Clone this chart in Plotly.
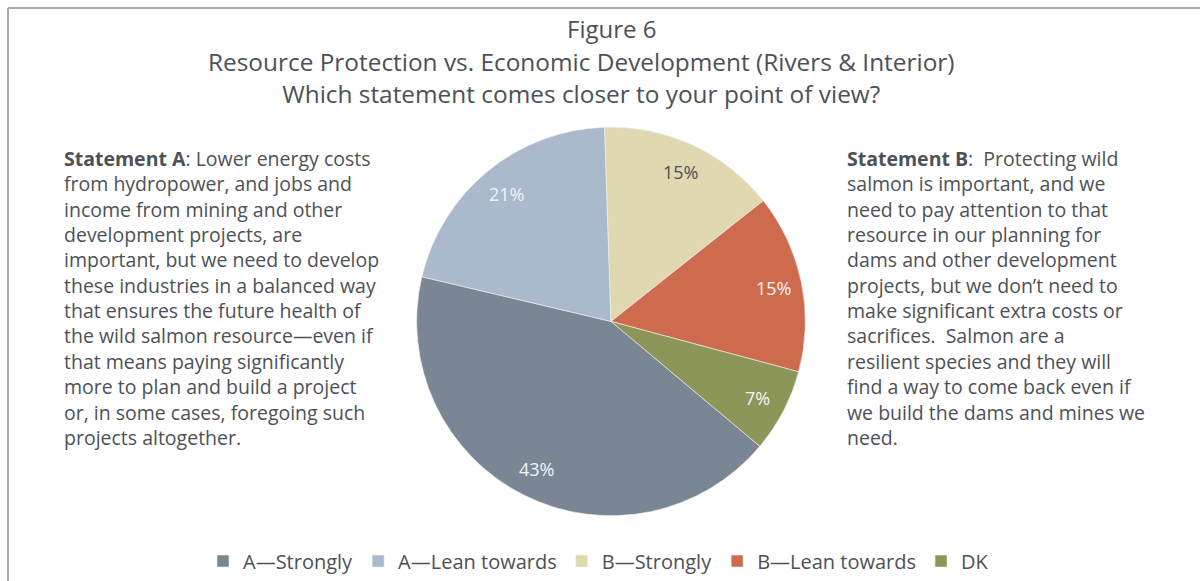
import math
import plotly.graph_objects as go

# ---- data ----
categories = ["A—Strongly", "A—Lean towards", "B—Strongly", "B—Lean towards", "DK"]
values = [43, 21, 15, 15, 7]
colors = ["#7A8694", "#AAB9CB", "#E0D8B0", "#CE6B4E", "#8C9658"]
label_colors = ["#F4F4F4", "#F4F4F4", "#4D5157", "#F4F4F4", "#F4F4F4"]

title_lines = ["Figure 6",
               "Resource Protection vs. Economic Development (Rivers & Interior)",
               "Which statement comes closer to your point of view?"]

statement_a = ("<b>Statement A</b>: Lower energy costs<br>from hydropower, and jobs and<br>"
               "income from mining and other<br>development projects, are<br>"
               "important, but we need to develop<br>these industries in a balanced way<br>"
               "that ensures the future health of<br>the wild salmon resource—even if<br>"
               "that means paying significantly<br>more to plan and build a project<br>"
               "or, in some cases, foregoing such<br>projects altogether.")
statement_b = ("<b>Statement B</b>:  Protecting wild<br>salmon is important, and we<br>"
               "need to pay attention to that<br>resource in our planning for<br>"
               "dams and other development<br>projects, but we don’t need to<br>"
               "make significant extra costs or<br>sacrifices.  Salmon are a<br>"
               "resilient species and they will<br>find a way to come back even if<br>"
               "we build the dams and mines we<br>need.")

# ---- layout geometry (pixels) ----
W, H = 1200, 581
CX, CY, R = 611, 322.5, 195
ROTATION = 130
FONT = "Open Sans"
TXT = "#4D5157"

def px(x):
    return x / W

def py(y):
    return 1 - y / H

fig = go.Figure()
fig.add_trace(go.Pie(
    labels=categories, values=values, sort=False, direction="clockwise",
    rotation=ROTATION,
    marker=dict(colors=colors, line=dict(color="#F2F2F2", width=0.6)),
    textinfo="none", hoverinfo="label+percent",
    domain=dict(x=[px(CX - R), px(CX + R)], y=[py(CY + R), py(CY - R)]),
))

annotations = []
# slice labels at the mid-angle of each slice
total = sum(values)
cum = 0
for v, c in zip(values, label_colors):
    mid = ROTATION + (cum + v / 2) / total * 360
    cum += v
    a = math.radians(mid)
    x = CX + 0.85 * R * math.sin(a)
    y = CY - 0.85 * R * math.cos(a)
    annotations.append(dict(x=px(x), y=py(y), xref="paper", yref="paper",
                            xanchor="center", yanchor="middle",
                            text=f"{round(v / total * 100)}%", showarrow=False,
                            font=dict(family=FONT, size=18, color=c)))

# title lines
annotations.append(dict(x=px(611), y=py(28.5), xref="paper", yref="paper", text=title_lines[0],
                        xanchor="center", yanchor="middle", borderpad=0,
                        showarrow=False, font=dict(family=FONT, size=24, color=TXT)))
annotations.append(dict(x=px(581), y=py(77.5), xref="paper", yref="paper",
                        text=title_lines[1] + "<br>" + title_lines[2],
                        xanchor="center", yanchor="middle", borderpad=0,
                        showarrow=False, font=dict(family=FONT, size=24.4, color=TXT)))

# statements
annotations.append(dict(x=px(62), y=py(299), xref="paper", yref="paper", text=statement_a,
                        align="left", xanchor="left", yanchor="middle", showarrow=False,
                        font=dict(family=FONT, size=19.5, color=TXT)))
annotations.append(dict(x=px(845), y=py(299), xref="paper", yref="paper", text=statement_b,
                        align="left", xanchor="left", yanchor="middle", showarrow=False,
                        font=dict(family=FONT, size=19.5, color=TXT)))

fig.update_layout(
    width=W, height=H,
    margin=dict(l=0, r=0, t=0, b=0),
    paper_bgcolor="white", plot_bgcolor="white",
    font=dict(family=FONT, color=TXT),
    annotations=annotations,
    showlegend=True,
    legend=dict(orientation="h", x=px(203), y=py(563), xanchor="left", yanchor="middle",
                font=dict(family=FONT, size=20, color=TXT), traceorder="normal"),
    shapes=[
        dict(type="line", xref="paper", yref="paper", x0=px(8), x1=px(8), y0=py(8), y1=py(H + 5),
             line=dict(color="#AAAAAA", width=2)),
        dict(type="line", xref="paper", yref="paper", x0=px(8), x1=px(W + 5), y0=py(8), y1=py(8),
             line=dict(color="#AAAAAA", width=2)),
    ],
)

fig.write_html("out.html")
